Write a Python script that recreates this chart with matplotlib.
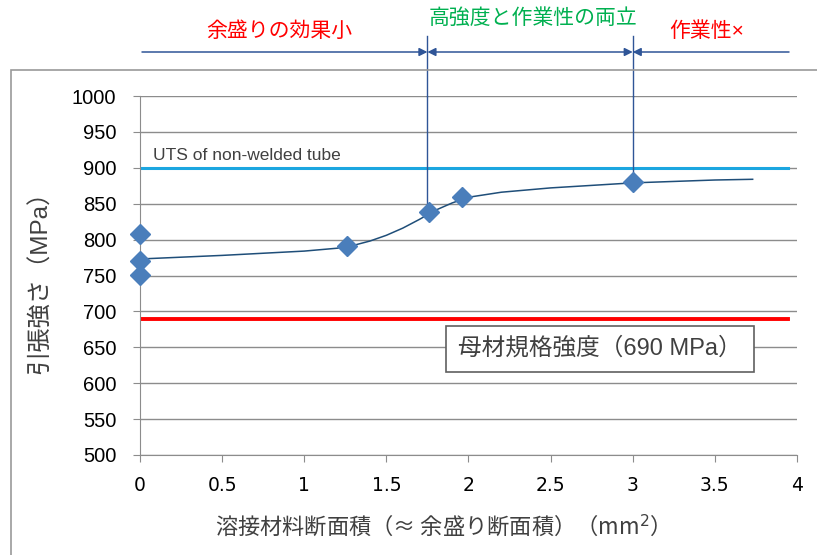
import matplotlib
matplotlib.use("Agg")
import matplotlib.pyplot as plt
from matplotlib.patches import Rectangle

plt.rcParams['font.family'] = ['Noto Sans CJK JP', 'DejaVu Sans']

# measured points
area = [0, 0, 0, 1.26, 1.76, 1.96, 3.0]
uts = [808, 770, 751, 791, 839, 859, 880]

# trend curve
curve_x = [0, 0.5, 1.0, 1.2, 1.3, 1.4, 1.5, 1.6, 1.7, 1.8, 1.9, 2.0, 2.2, 2.5, 3.0, 3.5, 3.73]
curve_y = [773, 778, 784, 788, 792, 798, 806, 816, 828, 841, 851, 859, 866, 872, 879, 883, 884]

uts_base = 900   # non-welded tube
spec = 690       # base metal spec
split_a = 1.75
split_b = 3.0

xticks = [0, 0.5, 1, 1.5, 2, 2.5, 3, 3.5, 4]
xticklabels = ['0', '0.5', '1', '1.5', '2', '2.5', '3', '3.5', '4']
yticks = list(range(500, 1001, 50))

W, H = 817, 555
fig = plt.figure(figsize=(W / 100, H / 100), dpi=100)
ax = fig.add_axes([140 / W, (H - 455) / H, (797 - 140) / W, (455 - 96) / H])

# outer chart frame
fig.patches.append(Rectangle((11 / W, -0.1), 1.2, (H - 70) / H + 0.1, transform=fig.transFigure,
                             fill=False, edgecolor='#9a9a9a', linewidth=1.2, zorder=0))

ax.set_xlim(0, 4)
ax.set_ylim(500, 1000)
ax.set_yticks(yticks)
ax.set_xticks(xticks)
ax.set_xticklabels(xticklabels, family=['Liberation Sans Narrow', 'DejaVu Sans'])
ax.set_yticklabels([str(v) for v in yticks], family=['Liberation Sans', 'DejaVu Sans'])
ax.tick_params(axis='both', direction='out', length=5, color='#8c8c8c')
ax.tick_params(axis='y', pad=12, labelsize=14.5)
ax.tick_params(axis='x', pad=10, labelsize=13.5)
ax.grid(axis='y', color='#8c8c8c', linewidth=1)
ax.set_axisbelow(True)
for s in ['top', 'right']:
    ax.spines[s].set_visible(False)
for s in ['left', 'bottom']:
    ax.spines[s].set_color('#8c8c8c')

ax.axhline(uts_base, xmin=0, xmax=(788 - 140) / (797 - 140), color='#1CA6E0', linewidth=2.2, zorder=2)
ax.axhline(spec, xmin=0, xmax=(788 - 140) / (797 - 140), color='#FF0000', linewidth=2.8, zorder=2)

ax.plot(curve_x, curve_y, color='#1F4E79', linewidth=1.1, zorder=3)
ax.plot(area, uts, linestyle='none', marker='D', markersize=10, color='#4A7EBB', zorder=4, clip_on=False)

ax.text(0.08, 911, 'UTS of non-welded tube', fontsize=12.5, color='#404040',
        family=['Liberation Sans', 'DejaVu Sans'])
ax.text(2.8, 648, '母材規格強度（690 MPa）', fontsize=17, color='#404040', ha='center', va='center',
        family=['Liberation Sans', 'Noto Sans CJK JP'],
        bbox=dict(boxstyle='square,pad=0.5', facecolor='white', edgecolor='#606060', linewidth=1.2),
        zorder=5)

ax.set_xlabel('溶接材料断面積（≈ 余盛り断面積）（mm$^2$）', fontsize=16, color='#404040',
              family=['Liberation Sans Narrow', 'Noto Sans CJK JP'])
ax.xaxis.set_label_coords((437 - 140) / (797 - 140), -(513 - 455) / (455 - 96))
ax.set_ylabel('引張強さ（MPa）', fontsize=17.5, color='#404040',
              family=['Liberation Sans', 'Noto Sans CJK JP'])
ax.yaxis.set_label_coords(-(140 - 52) / (797 - 140), (455 - 276) / (455 - 96))

# top region arrows (in axes data x, figure-pixel y)
trans = ax.get_xaxis_transform()
y_arrow = 1 + (96 - 52) / (455 - 96)
y_top = 1 + (96 - 36) / (455 - 96)
x_left = (142 - 140) / (797 - 140) * 4
x_right = (789 - 140) / (797 - 140) * 4
arrow_col = '#2F5597'
akw = dict(arrowstyle='-|>', color=arrow_col, lw=1.1, mutation_scale=12, shrinkA=0, shrinkB=0)
ax.annotate('', xy=(split_a, y_arrow), xytext=(x_left, y_arrow), xycoords=trans, textcoords=trans,
            arrowprops=akw, annotation_clip=False)
ax.annotate('', xy=(split_b, y_arrow), xytext=(split_a, y_arrow), xycoords=trans, textcoords=trans,
            arrowprops=dict(akw, arrowstyle='<|-|>'), annotation_clip=False)
ax.annotate('', xy=(split_b, y_arrow), xytext=(x_right, y_arrow), xycoords=trans, textcoords=trans,
            arrowprops=akw, annotation_clip=False)
ax.plot([split_a, split_a], [839, 1000], color=arrow_col, linewidth=1, zorder=3)
ax.plot([split_b, split_b], [880, 1000], color=arrow_col, linewidth=1, zorder=3)
ax.plot([split_a, split_a], [1, y_top], color=arrow_col, linewidth=1, transform=trans, clip_on=False)
ax.plot([split_b, split_b], [1, y_top], color=arrow_col, linewidth=1, transform=trans, clip_on=False)

ax.text(0.85, 1 + (96 - 31) / (455 - 96), '余盛りの効果小', transform=trans, fontsize=15,
        color='#FF0000', ha='center', va='center')
ax.text(2.39, 1 + (96 - 18) / (455 - 96), '高強度と作業性の両立', transform=trans, fontsize=15,
        color='#00B050', ha='center', va='center')
ax.text(3.45, 1 + (96 - 31) / (455 - 96), '作業性×', transform=trans, fontsize=15,
        color='#FF0000', ha='center', va='center', family=['Liberation Sans', 'Noto Sans CJK JP'])

fig.savefig('out.png', dpi=100)
